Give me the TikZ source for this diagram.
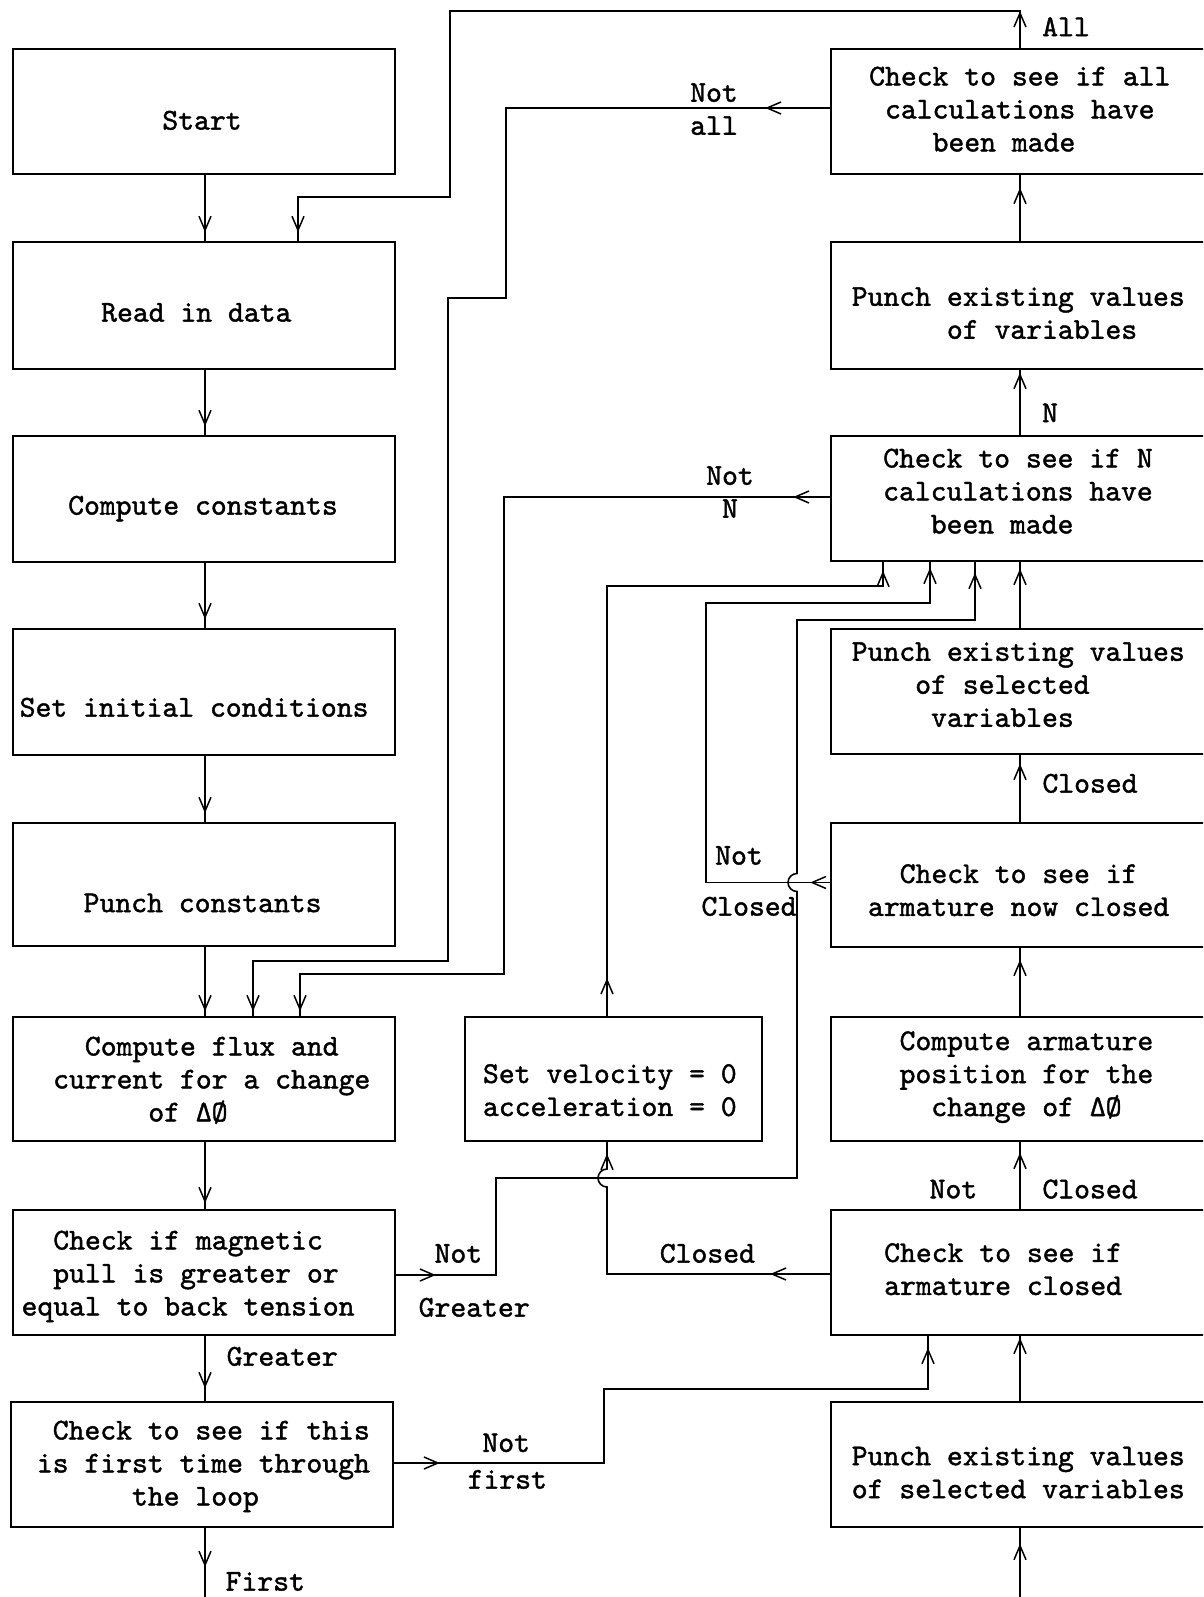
\documentclass[tikz,border=0pt]{standalone}
\usepackage{fontspec}
\newfontfamily\tw[FakeBold=1.4]{lmmono10-regular.otf}
\usetikzlibrary{arrows.meta,decorations.markings,fit}
\newcommand{\ind}[1]{\hspace*{#1\fontcharwd\font`x}}
\tikzset{
  tipA/.tip={Straight Barb[length=14pt,width=12pt,line width=1.5pt]},
  box/.style={draw, line width=1.7pt, inner sep=0pt},
  txt/.style={font=\tw\fontsize{30.2}{33}\selectfont, inner sep=0pt, align=left,
    yshift=-4pt, execute at begin node=\strut, execute at end node=\strut},
  conn/.style={line width=1.6pt},
  arrowat/.style={postaction={decorate, decoration={markings,
      mark=at position #1 with {\arrow{tipA}}}}}
}
\begin{document}
\begin{tikzpicture}[x=1pt,y=-1pt]
\useasboundingbox (0,0) rectangle (1203,1597);
\clip (0,0) rectangle (1203,1597);
\fill[white] (0,0) rectangle (1203,1597);

% left column boxes
\node[box, fit={(13,49) (395,174)}] (start) {};
\node[box, fit={(13,242) (395,369)}] (read) {};
\node[box, fit={(13,436) (395,562)}] (cconst) {};
\node[box, fit={(13,629) (395,755)}] (setinit) {};
\node[box, fit={(13,823) (395,946)}] (punchc) {};
\node[box, fit={(13,1017) (395,1141)}] (flux) {};
\node[box, fit={(13,1210) (395,1335)}] (magn) {};
\node[box, fit={(11,1402) (393,1527)}] (first) {};
% right column boxes
\node[box, fit={(831,49) (1215,174)}] (chkall) {};
\node[box, fit={(831,242) (1215,369)}] (punchv) {};
\node[box, fit={(831,436) (1215,561)}] (chkN) {};
\node[box, fit={(831,629) (1215,754)}] (punchsel) {};
\node[box, fit={(831,823) (1215,947)}] (nowclosed) {};
\node[box, fit={(831,1017) (1215,1141)}] (armpos) {};
\node[box, fit={(831,1210) (1215,1335)}] (armclosed) {};
\node[box, fit={(831,1402) (1215,1527)}] (punchsel2) {};
% middle box
\node[box, fit={(465,1017) (762,1141)}] (setvel) {};

% box texts
\node[txt] (startT) at (202,119) {Start};
\node[txt, anchor=west] (readT) at (101,311) {Read in data};
\node[txt, anchor=west] (cconstT) at (68,504) {Compute constants};
\node[txt, anchor=west] (setinitT) at (19.5,706) {Set initial conditions};
\node[txt, anchor=west] (punchcT) at (83.5,901.5) {Punch constants};
\node[txt, anchor=west] (fluxT) at (53,1080) {\ind{2}Compute flux and\\current for a change\\\ind{6}of ΔØ};
\node[txt, anchor=west] (magnT) at (21.4,1274) {\ind{2}Check if magnetic\\\ind{2}pull is greater or\\equal to back tension};
\node[txt, anchor=west] (firstT) at (36.7,1464) {\ind{1}Check to see if this\\is first time through\\\ind{6}the loop};
\node[txt, anchor=west] (chkallT) at (869,110) {Check to see if all\\\ind{1}calculations have\\\ind{4}been made};
\node[txt, anchor=west] (punchvT) at (851.6,314) {Punch existing values\\\ind{6}of variables};
\node[txt, anchor=west] (chkNT) at (883,492) {Check to see if N\\calculations have\\\ind{3}been made};
\node[txt, anchor=west] (punchselT) at (851.6,685.5) {Punch existing values\\\ind{4}of selected\\\ind{5}variables};
\node[txt, anchor=west] (nowclosedT) at (867.8,891) {\ind{2}Check to see if\\armature now closed};
\node[txt, anchor=west] (armposT) at (899.4,1074.6) {Compute armature\\position for the\\\ind{2}change of ΔØ};
\node[txt, anchor=west] (armclosedT) at (884,1270) {Check to see if\\armature closed};
\node[txt, anchor=west] (punchsel2T) at (851.6,1473.4) {Punch existing values\\of selected variables};
\node[txt, anchor=west] (setvelT) at (482.8,1091) {Set velocity = 0\\acceleration = 0};

% connector labels
\node[txt] (lAll) at (1066,25.5) {All};
\node[txt, align=center] (lNotall) at (714,110) {Not\\all};
\node[txt] (lN) at (1050,411.5) {N};
\node[txt, align=center] (lNotN) at (730,493) {Not\\N};
\node[txt] (lClosedA) at (1090,782) {Closed};
\node[txt] (lNotB) at (739,854) {Not};
\node[txt] (lClosedB) at (749,905) {Closed};
\node[txt] (lNotC) at (953.4,1187.7) {Not};
\node[txt] (lClosedC) at (1090,1187.7) {Closed};
\node[txt] (lClosedD) at (707.4,1252) {Closed};
\node[txt] (lNotD) at (458.4,1252) {Not};
\node[txt] (lGreaterD) at (474.2,1306) {Greater};
\node[txt] (lGreaterE) at (282.2,1355) {Greater};
\node[txt] (lNotF) at (506.2,1441.3) {Not};
\node[txt] (lfirstF) at (507.3,1478) {first};
\node[txt] (lFirstG) at (265.3,1580) {First};

% reference coordinates
\coordinate (Lx) at (205,0);
\coordinate (Rx) at (1020,0);
\coordinate (bottomL) at (205,1600);
\coordinate (bottomR) at (1020,1600);

% left column flow
\draw[conn, arrowat=-9pt] (start.south -| Lx) -- (read.north -| Lx);
\draw[conn, arrowat=-9pt] (read.south -| Lx) -- (cconst.north -| Lx);
\draw[conn, arrowat=-9pt] (cconst.south -| Lx) -- (setinit.north -| Lx);
\draw[conn, arrowat=-9pt] (setinit.south -| Lx) -- (punchc.north -| Lx);
\draw[conn, arrowat=-5pt] (punchc.south -| Lx) -- (flux.north -| Lx);
\draw[conn, arrowat=-6pt] (flux.south -| Lx) -- (magn.north -| Lx);
\draw[conn, arrowat=-13pt] (magn.south -| Lx) -- (first.north -| Lx);
\draw[conn, arrowat=-33pt] (first.south -| Lx) -- (bottomL);

% right column flow (upwards)
\draw[conn, arrowat=-13pt] (punchv.north -| Rx) -- (chkall.south -| Rx);
\draw[conn, arrowat=-3pt] (chkN.north -| Rx) -- (punchv.south -| Rx);
\draw[conn, arrowat=-7pt] (punchsel.north -| Rx) -- (chkN.south -| Rx);
\draw[conn, arrowat=-9pt] (nowclosed.north -| Rx) -- (punchsel.south -| Rx);
\draw[conn, arrowat=-12pt] (armpos.north -| Rx) -- (nowclosed.south -| Rx);
\draw[conn, arrowat=-11pt] (armclosed.north -| Rx) -- (armpos.south -| Rx);
\draw[conn, arrowat=-2pt] (punchsel2.north -| Rx) -- (armclosed.south -| Rx);
\draw[conn, arrowat=-16pt] (bottomR) -- (punchsel2.south -| Rx);

% All
\draw[conn, arrowat=37pt, arrowat=-9pt] (chkall.north -| Rx) -- (1020,11) -- (450,11)
  -- (450,197) -- (298,197) -- (read.north -| 298,0);
% Not all
\draw[conn, arrowat=65pt, arrowat=-5pt] (chkall.west |- 0,108) -- (506,108) -- (506,298)
  -- (448,298) -- (448,961) -- (253,961) -- (flux.north -| 253,0);
% Not N
\draw[conn, arrowat=37pt, arrowat=-5pt] (chkN.west |- 0,497) -- (504,497) -- (504,974)
  -- (300,974) -- (flux.north -| 300,0);
% Not closed (armature now closed)
\draw[conn, arrowat=20pt, arrowat=-6pt] (nowclosed.west |- 0,882.5) -- (706,882.5)
  -- (706,603) -- (930,603) -- (chkN.south -| 930,0);
% Set velocity up
\draw[conn, arrowat=38pt, arrowat=-9pt] (setvel.north -| 607,0) -- (607,586) -- (883,586)
  -- (chkN.south -| 883,0);
% Not greater
\draw[conn, arrowat=40pt, arrowat=-11pt] (magn.east |- 0,1275) -- (496,1275) -- (496,1178)
  -- (797,1178) -- (797,891.5) arc[start angle=90, end angle=270, radius=9]
  -- (797,620) -- (975,620) -- (chkN.south -| 975,0);
% Closed (armature closed) to set velocity
\draw[conn, arrowat=60pt, arrowat=-12pt] (armclosed.west |- 0,1274) -- (607,1274)
  -- (607,1187) arc[start angle=90, end angle=270, radius=9] -- (setvel.south -| 607,0);
% Not first
\draw[conn, arrowat=46pt, arrowat=-12pt] (first.east |- 0,1463) -- (604,1463) -- (604,1389)
  -- (928,1389) -- (armclosed.south -| 928,0);
\end{tikzpicture}
\end{document}
